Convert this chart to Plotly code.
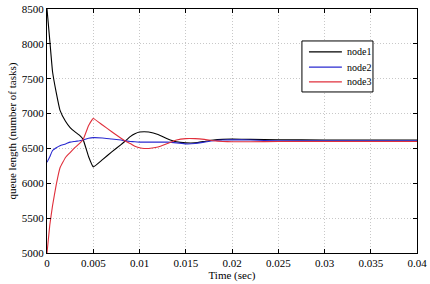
import plotly.graph_objects as go

time_s = [0, 0.0003, 0.0006, 0.001, 0.0014, 0.002, 0.0025, 0.003, 0.0035, 0.0039,
          0.0045, 0.005, 0.006, 0.007, 0.008, 0.0084, 0.009, 0.0095, 0.01, 0.0105, 0.011,
          0.012, 0.013, 0.014, 0.015, 0.016, 0.017, 0.018, 0.019, 0.02, 0.022,
          0.025, 0.03, 0.035, 0.04]

node1 = [8500, 8050, 7600, 7300, 7050, 6890, 6800, 6740, 6690, 6630,
         6380, 6235, 6340, 6450, 6555, 6600, 6670, 6710, 6735, 6740, 6735,
         6700, 6640, 6595, 6580, 6580, 6600, 6620, 6630, 6635, 6630,
         6625, 6620, 6620, 6620]

node2 = [6300, 6380, 6470, 6510, 6540, 6565, 6590, 6600, 6610, 6620,
         6645, 6655, 6650, 6635, 6620, 6610, 6600, 6595, 6590, 6590, 6590,
         6590, 6590, 6580, 6565, 6570, 6590, 6610, 6620, 6625, 6620,
         6610, 6610, 6610, 6610]

node3 = [5000, 5400, 5680, 5980, 6220, 6370, 6440, 6510, 6570, 6625,
         6830, 6930, 6835, 6740, 6645, 6610, 6570, 6530, 6510, 6500, 6500,
         6520, 6570, 6620, 6640, 6640, 6630, 6610, 6600, 6595, 6595,
         6600, 6600, 6600, 6600]

series_names = ["node1", "node2", "node3"]
series_colors = ["#000000", "#2a2ad0", "#e0303c"]

x_ticks = [0, 0.005, 0.01, 0.015, 0.02, 0.025, 0.03, 0.035, 0.04]
x_ticktext = ["0", "0.005", "0.01", "0.015", "0.02", "0.025", "0.03", "0.035", "0.04"]
y_ticks = [5000, 5500, 6000, 6500, 7000, 7500, 8000, 8500]

fig = go.Figure()
for name, vals, col in zip(series_names, [node1, node2, node3], series_colors):
    fig.add_trace(go.Scatter(x=time_s, y=vals, mode="lines", name=name, showlegend=False,
                             line=dict(color=col, width=1.1, shape="spline", smoothing=0.3)))

font_family = "Liberation Serif"
axis_common = dict(showline=True, linecolor="black", linewidth=1, mirror="ticks",
                   ticks="inside", ticklen=4, tickcolor="black", automargin=False,
                   showgrid=True, gridcolor="#c8c8c8", griddash="1px,2px", gridwidth=1,
                   zeroline=False, tickfont=dict(family=font_family, size=11, color="black"))

fig.update_layout(
    width=430, height=284,
    margin=dict(l=47, r=13, t=9, b=31),
    paper_bgcolor="white", plot_bgcolor="white",
    font=dict(family=font_family, size=11, color="black"),
    xaxis=dict(range=[0, 0.04], tickvals=x_ticks, ticktext=x_ticktext,
               title=dict(text="Time (sec)", font=dict(family=font_family, size=11), standoff=0),
               **axis_common),
    yaxis=dict(range=[5000, 8500], tickvals=y_ticks,
               title=dict(text="queue length (number of tasks)", font=dict(family=font_family, size=11), standoff=2),
               **axis_common),
    showlegend=False,
)

# manual legend box (paper coordinates)
lx0, lx1, ly0, ly1 = 0.689, 0.881, 0.660, 0.869
fig.add_shape(type="rect", xref="paper", yref="paper", x0=lx0, x1=lx1, y0=ly0, y1=ly1,
              line=dict(color="black", width=1), fillcolor="white", layer="above")
legend_rows = [0.824, 0.762, 0.701]
for name, col, yy in zip(series_names, series_colors, legend_rows):
    fig.add_shape(type="line", xref="paper", yref="paper", x0=0.708, x1=0.797, y0=yy, y1=yy,
                  line=dict(color=col, width=1.2), layer="above")
    fig.add_annotation(xref="paper", yref="paper", x=0.805, y=yy, text=name, showarrow=False,
                       xanchor="left", yanchor="middle",
                       font=dict(family=font_family, size=10, color="black"))

fig.write_html("out.html", config={"displayModeBar": False},
               post_script="document.body.style.margin='0';document.body.style.overflow='hidden';")
